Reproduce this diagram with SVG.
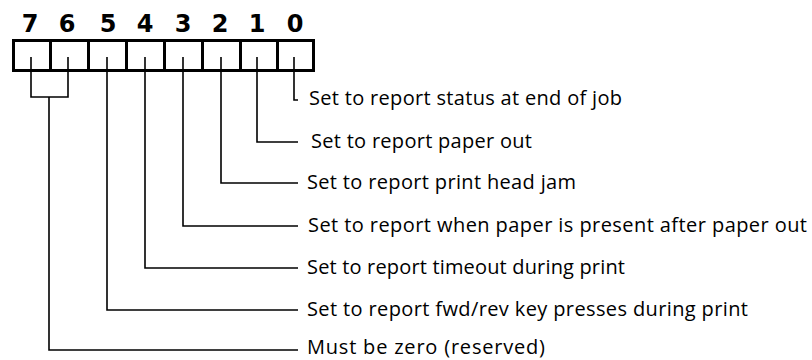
<svg xmlns="http://www.w3.org/2000/svg" width="812" height="360" viewBox="0 0 812 360">
<style>
.dig{font-family:"DejaVu Sans",sans-serif;font-size:24px;font-weight:bold;fill:#000;text-anchor:middle}
.lbl{font-family:"Open Sans","Noto Sans",sans-serif;font-size:20px;fill:#000}
.cell{fill:#fff;stroke:#000;stroke-width:3}
.ln{fill:none;stroke:#000;stroke-width:1.6}
</style>
<rect width="812" height="360" fill="#fff"/>
<g id="register">
<rect class="cell" x="13.5" y="40.5" width="37" height="30"/>
<rect class="cell" x="50.5" y="40.5" width="38" height="30"/>
<rect class="cell" x="88.5" y="40.5" width="38" height="30"/>
<rect class="cell" x="126.5" y="40.5" width="38" height="30"/>
<rect class="cell" x="164.5" y="40.5" width="38" height="30"/>
<rect class="cell" x="202.5" y="40.5" width="38" height="30"/>
<rect class="cell" x="240.5" y="40.5" width="37" height="30"/>
<rect class="cell" x="277.5" y="40.5" width="36" height="30"/>
<text class="dig" x="30" y="32">7</text>
<text class="dig" x="67" y="32">6</text>
<text class="dig" x="108" y="32">5</text>
<text class="dig" x="145" y="32">4</text>
<text class="dig" x="183" y="32">3</text>
<text class="dig" x="220" y="32">2</text>
<text class="dig" x="257" y="32">1</text>
<text class="dig" x="295" y="32">0</text>
</g>
<g id="connectors">
<path class="ln" d="M294,57 V100 H298"/>
<path class="ln" d="M257,57 V142 H298"/>
<path class="ln" d="M221,57 V183 H298"/>
<path class="ln" d="M183,57 V226 H298"/>
<path class="ln" d="M145,57 V268 H298"/>
<path class="ln" d="M107,57 V310 H298"/>
<path class="ln" d="M31,57 V97 H68 V57 M49,97 V350 H298"/>
</g>
<g id="bit0"><text class="lbl" x="309" y="105" textLength="313" lengthAdjust="spacing">Set to report status at end of job</text></g>
<g id="bit1"><text class="lbl" x="311" y="148" textLength="221" lengthAdjust="spacing">Set to report paper out</text></g>
<g id="bit2"><text class="lbl" x="307" y="189" textLength="269" lengthAdjust="spacing">Set to report print head jam</text></g>
<g id="bit3"><text class="lbl" x="308" y="232" textLength="499" lengthAdjust="spacing">Set to report when paper is present after paper out</text></g>
<g id="bit4"><text class="lbl" x="307" y="274" textLength="318" lengthAdjust="spacing">Set to report timeout during print</text></g>
<g id="bit5"><text class="lbl" x="307" y="316" textLength="441" lengthAdjust="spacing">Set to report fwd/rev key presses during print</text></g>
<g id="bit76"><text class="lbl" x="307" y="354" textLength="238" lengthAdjust="spacing">Must be zero (reserved)</text></g>
</svg>
